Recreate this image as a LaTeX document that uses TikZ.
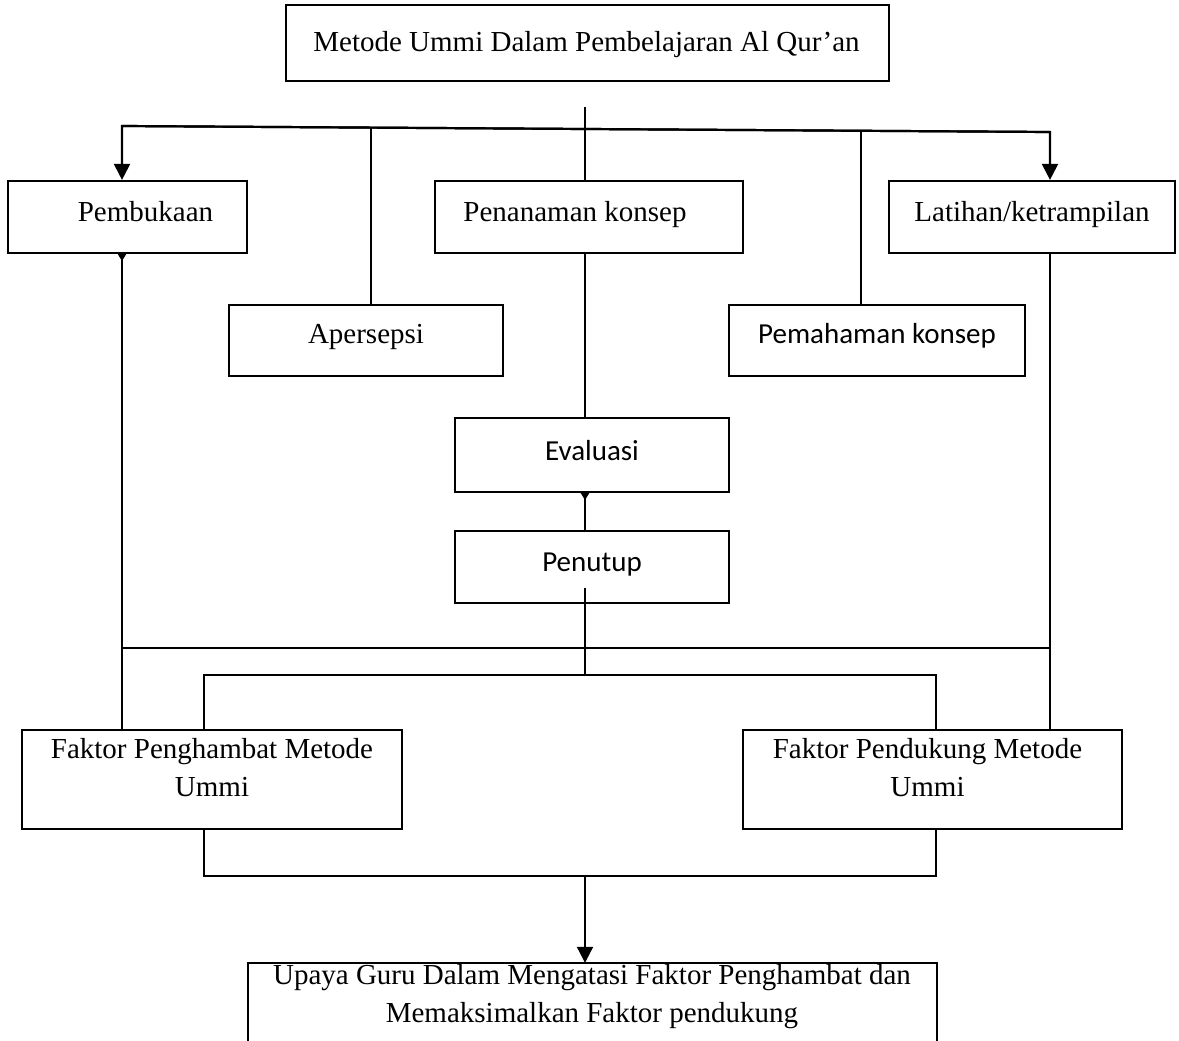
\documentclass[tikz,border=0pt]{standalone}
\usepackage{fontspec}
\setmainfont{Liberation Serif}
\newfontfamily\calfont{Carlito}
\usetikzlibrary{arrows.meta}
\begin{document}
\begin{tikzpicture}[x=1pt,y=-1pt,
  box/.style={draw, line width=2.2pt, inner sep=0pt},
  lbl/.style={inner sep=0pt, text height=20pt, text depth=0pt, font=\fontsize{29}{38}\selectfont},
  cal/.style={inner sep=0pt, text height=19pt, text depth=0pt, font=\calfont\fontsize{29}{38}\selectfont},
  conn/.style={line width=2.2pt, line join=miter},
  thinc/.style={line width=1.5pt},
  arr/.style={-{Triangle[width=16pt,length=16pt]}},
  rarr/.style={{Triangle[reversed,width=8pt,length=7pt]}-}]
\useasboundingbox (0,0) rectangle (1179,1041);
\fill[white] (0,0) rectangle (1179,1041);

% boxes
\node[box, minimum width=603pt, minimum height=76pt] (top) at (587.5,43) {};
\node[box, minimum width=239pt, minimum height=72pt] (pemb) at (127.5,217) {};
\node[box, minimum width=308pt, minimum height=72pt] (pen) at (589,217) {};
\node[box, minimum width=286pt, minimum height=72pt] (lat) at (1032,217) {};
\node[box, minimum width=274pt, minimum height=71pt] (aper) at (366,340.5) {};
\node[box, minimum width=296pt, minimum height=71pt] (pem) at (877,340.5) {};
\node[box, minimum width=274pt, minimum height=74pt] (eva) at (592,455) {};
\node[box, minimum width=274pt, minimum height=72pt] (put) at (592,567) {};
\node[box, minimum width=380pt, minimum height=99pt] (fp) at (212,779.5) {};
\node[box, minimum width=379pt, minimum height=99pt] (fd) at (932.5,779.5) {};
\node[inner sep=0pt, minimum width=689pt, minimum height=78pt] (up) at (592.5,1002) {};
\draw[line width=2.2pt] (up.south west) -- (up.north west) -- (up.north east) -- (up.south east);

% texts
\node[lbl] (topT) at (586.5,42) {Metode Ummi Dalam Pembelajaran Al Qur’an};
\node[lbl] (pembT) at (145.5,211) {Pembukaan};
\node[lbl] (penT) at (575,211) {Penanaman konsep};
\node[lbl] (latT) at (1032,211) {Latihan/ketrampilan};
\node[lbl] (aperT) at (366,333) {Apersepsi};
\node[cal] (pemT) at (877,334) {Pemahaman konsep};
\node[cal] (evaT) at (592,451) {Evaluasi};
\node[cal] (putT) at (592,562) {Penutup};
\node[lbl, align=center] (fpT) at (212,786) {Faktor Penghambat Metode\\Ummi};
\node[lbl, align=center] (fdT) at (927.5,786) {Faktor Pendukung Metode\\Ummi};
\node[lbl, align=center] (upT) at (592,1012) {Upaya Guru Dalam Mengatasi Faktor Penghambat dan\\Memaksimalkan Faktor pendukung};

% coordinates
\coordinate (hl) at (122,126);
\coordinate (hr) at (1050,132);
\coordinate (t0) at (585,107);
\coordinate (a1) at (371,126.5);
\coordinate (p1) at (861,131);
\coordinate (pp) at (585,588);
\coordinate (m1) at (585,675);
\coordinate (b1) at (204,675);
\coordinate (b2) at (936,675);
\coordinate (hm) at (122,648);
\coordinate (hm2) at (1050,648);
\coordinate (c1) at (204,876);
\coordinate (c2) at (936,876);
\coordinate (c0) at (585,876);

% connectors
\draw[conn,arr] (hr) -- (hl) -- (hl |- pemb.north);
\draw[conn,arr] (hl) -- (hr) -- (hr |- lat.north);
\draw[conn] (a1) -- (a1 |- aper.north);
\draw[conn] (p1) -- (p1 |- pem.north);
\draw[conn] (t0) -- (t0 |- pen.north);
\draw[conn] (t0 |- pen.south) -- (t0 |- eva.north);
\draw[conn,rarr] (t0 |- eva.south) -- (t0 |- put.north);
\draw[thinc,rarr] (hl |- pemb.south) -- (hl |- fp.north);
\draw[thinc] (hr |- lat.south) -- (hr |- fd.north);
\draw[thinc] (hm) -- (hm2);
\draw[thinc] (pp) -- (m1);
\draw[conn] (b1 |- fp.north) -- (b1) -- (b2) -- (b2 |- fd.north);
\draw[conn] (c1 |- fp.south) -- (c1) -- (c2) -- (c2 |- fd.south);
\draw[conn,arr] (c0) -- (c0 |- up.north);
\end{tikzpicture}
\end{document}
